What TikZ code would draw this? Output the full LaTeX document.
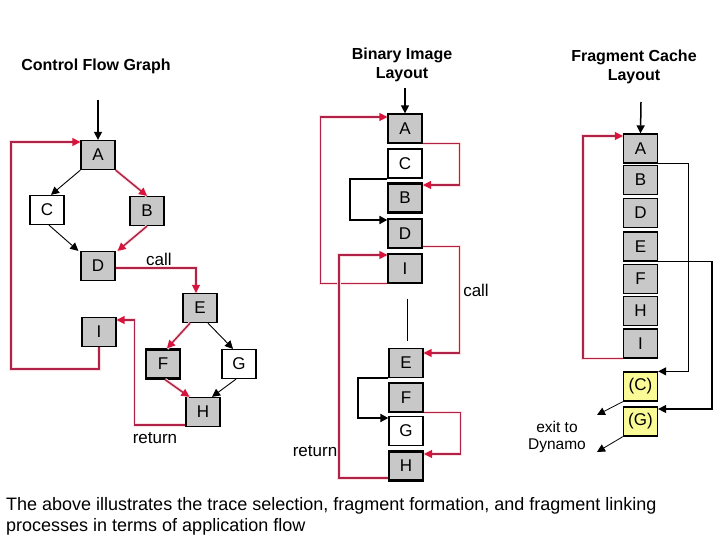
\documentclass[tikz,border=0pt]{standalone}
\usepackage{fontspec}
\setmainfont{Liberation Sans}
\usetikzlibrary{arrows.meta}
\definecolor{blkgray}{RGB}{200,200,200}
\definecolor{cacheyel}{RGB}{250,250,150}
\definecolor{linkred}{RGB}{175,35,75}
\definecolor{tipred}{RGB}{215,20,60}

\begin{document}
\begin{tikzpicture}[x=1pt,y=-1pt,
  blk/.style={draw, line width=1.3pt, fill=blkgray, minimum width=34pt,
    minimum height=29pt, inner sep=0pt, font=\fontsize{17}{17}\selectfont},
  wblk/.style={blk, fill=white},
  yblk/.style={blk, fill=cacheyel},
  thk/.style={line width=2.2pt},
  title/.style={align=center, font=\bfseries\fontsize{16}{19}\selectfont},
  lbl/.style={font=\fontsize{17}{17}\selectfont},
  redln/.style={draw=linkred, line width=1.5pt,
    -{Triangle[length=8pt,width=8pt,color=tipred]},
    preaction={draw=red!12, line width=3.5pt, arrows=-}},
  blkln/.style={line width=0.9pt, -{Triangle[length=8pt,width=8pt]}},
  entry/.style={line width=1.5pt, -{Triangle[length=8pt,width=8pt]}}]
  \useasboundingbox (0,0) rectangle (720,540);

  % control flow graph
  \node[title] (lTitle) at (96,66) {Control Flow Graph};
  \coordinate (lIn) at (98,100);
  \node[blk] (lA) at (98,155) {A};
  \node[wblk] (lC) at (47,210) {C};
  \node[blk] (lB) at (147,211) {B};
  \node[blk] (lD) at (98,266) {D};
  \node[blk] (lE) at (200,308) {E};
  \node[blk] (lI) at (99,332) {I};
  \node[blk, thk] (lF) at (163,364) {F};
  \node[wblk] (lG) at (239,364) {G};
  \node[blk] (lH) at (203,412) {H};
  \draw[entry] (lIn) -- (lA.north);
  \draw[blkln] (lA.south west) -- ([xshift=4pt]lC.north);
  \draw[redln] (lA.south east) -- (lB.north);
  \draw[blkln] ([xshift=2pt]lC.south) -- ([xshift=-2pt]lD.north west);
  \draw[redln] (lB.south) -- ([xshift=2pt]lD.north east);
  \draw[redln] ([yshift=-2pt]lD.east) -| ([xshift=-4pt]lE.north);
  \node[lbl] (lCall) at (159,259) {call};
  \draw[redln] ([xshift=-10pt]lE.south) -- ([xshift=4pt]lF.north);
  \draw[blkln] ([xshift=8pt]lE.south) -- ([xshift=-6pt]lG.north);
  \draw[redln] ([xshift=2pt]lF.south) -- ([xshift=4pt]lH.north west);
  \draw[blkln] ([xshift=-3pt]lG.south) -- ([xshift=9pt]lH.north);
  \draw[redln] ([yshift=-13pt]lH.west) -- ++(-51,0) |- ([yshift=12pt]lI.east);
  \node[lbl] (lRet) at (155,438) {return};
  \draw[redln] (lI.south) |- ++(-88,22) |- ([yshift=13pt]lA.west);

  % binary image layout
  \node[title] (mTitle) at (402,65) {Binary Image\\Layout};
  \coordinate (mIn) at (405,88);
  \node[blk] (mA) at (405,128.5) {A};
  \node[wblk] (mC) at (405,163.5) {C};
  \node[blk, thk] (mB) at (405,198) {B};
  \node[blk] (mD) at (405,233.5) {D};
  \node[blk] (mI) at (405,268.5) {I};
  \node[blk] (mE) at (406,363) {E};
  \node[blk] (mF) at (406,397.5) {F};
  \node[wblk] (mG) at (406,431) {G};
  \node[blk, thk] (mH) at (406,466) {H};
  \draw[entry] (mIn) -- (mA.north);
  \draw[redln] (mA.south east) -- ++(37,0) |- ([yshift=13pt]mB.east);
  \draw[blkln, line width=2pt] (mC.south west) -- ++(-37,0) |- ([yshift=13.5pt]mD.west);
  \draw[redln] ([yshift=2pt]mD.south east) -- ++(37,0) |- ([yshift=10pt]mE.east);
  \node[lbl] (mCall) at (476,290) {call};
  \draw[redln] (mI.south west) -- ++(-67,0) |- ([yshift=11.5pt]mA.west);
  \draw ([xshift=2pt,yshift=-15pt]mI.south) -- ([xshift=1pt,yshift=7pt]mE.north);
  \draw[blkln, line width=2pt] (mE.south west) -- ++(-30,0) |- ([yshift=13pt]mG.west);
  \draw[redln] (mF.south east) -- ++(37,0) |- ([yshift=12pt]mH.east);
  \draw[redln] ([yshift=-12pt]mH.west) -- ++(-49,0) |- ([yshift=13.5pt]mI.west);
  \node[lbl] (mRet) at (315,451) {return};

  % fragment cache layout
  \node[title] (fTitle) at (634,67) {Fragment Cache\\Layout};
  \coordinate (fIn) at (641,102);
  \begin{scope}[every node/.append style={line width=1.6pt, minimum width=35pt, minimum height=28pt}]
    \node[blk] (fA) at (640.5,148.5) {A};
    \node[blk] (fB) at (640.5,180) {B};
    \node[blk] (fD) at (640.5,213) {D};
    \node[blk] (fE) at (640.5,246.5) {E};
    \node[blk] (fF) at (640.5,279) {F};
    \node[blk] (fH) at (640.5,311) {H};
    \node[blk] (fI) at (640.5,343.5) {I};
    \node[yblk] (fC) at (640.5,386.5) {(C)};
    \node[yblk] (fG) at (640.5,421.5) {(G)};
  \end{scope}
  \draw[entry] (fIn) -- (fA.north);
  \draw[blkln, line width=1.3pt] (fA.south east) -- ++(30,0) |- (fC.north east);
  \draw[blkln, line width=1.5pt] (fE.south east) -- ++(54,0) |- ([yshift=12.5pt]fG.east);
  \draw[redln] (fI.south west) -- ++(-40,0) |- ([yshift=12.5pt]fA.west);
  \coordinate (fExC) at (597,415);
  \coordinate (fExG) at (597,452);
  \draw[blkln, line width=0.8pt] (fC.south west) -- (fExC);
  \draw[blkln, line width=0.8pt] (fG.south west) -- (fExG);
  \node[align=center, font=\fontsize{15.5}{17}\selectfont] (fExit) at (557,437) {exit to\\Dynamo};

  % caption
  \node[anchor=north west, align=left, inner sep=0pt,
    font=\fontsize{18}{21.5}\selectfont] (cap) at (6,497)
    {The above illustrates the trace selection, fragment formation, and fragment linking\\
     processes in terms of application flow};
\end{tikzpicture}
\end{document}
